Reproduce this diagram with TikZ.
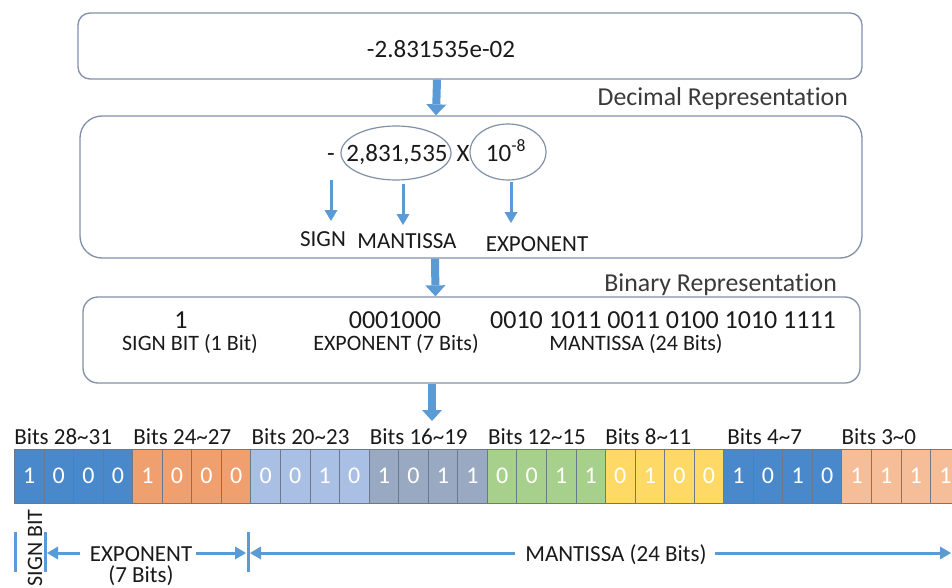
\documentclass[tikz,border=0pt]{standalone}
\usepackage{fontspec}
\setmainfont{Carlito}[Ligatures=NoCommon]
\usetikzlibrary{arrows.meta,shapes.geometric}
\definecolor{txt}{HTML}{1A1A1A}
\definecolor{lbl}{HTML}{3A3A3A}
\definecolor{abl}{HTML}{5B9BD5}
\definecolor{boxb}{HTML}{8090A8}
\definecolor{cellb}{HTML}{6A7A8C}
\definecolor{gA}{HTML}{4A88CC}
\definecolor{gB}{HTML}{F0A06E}
\definecolor{gC}{HTML}{A9C0E4}
\definecolor{gD}{HTML}{9AA9C2}
\definecolor{gE}{HTML}{A8D08D}
\definecolor{gF}{HTML}{FFD966}
\definecolor{gH}{HTML}{F6BE98}
\newcommand{\fs}[1]{\fontsize{#1}{#1}\selectfont}
\tikzset{
  panel/.style={draw=boxb, line width=1.3pt, fill=white, inner sep=0pt},
  blockarrow/.style={abl, line width=8pt, -{Triangle[width=20pt 0 0, length=11pt 0 0, line width=0pt 0 0]}},
  thinarrow/.style={abl, line width=3pt, -{Triangle[width=13pt 0 0, length=11pt 0 0, line width=0pt 0 0]}},
  bar/.style={abl, line width=3pt},
  oval/.style={ellipse, draw=boxb, line width=1.2pt, inner sep=0pt},
  maintext/.style={text=txt, font=\fs{25}, inner sep=0pt},
  lbltext/.style={text=lbl, font=\fs{25.8}, inner sep=0pt},
  smalltext/.style={text=txt, font=\fs{23}, inner sep=0pt},
  cell/.style={draw=cellb, line width=0.9pt, minimum width=29.55pt, minimum height=54pt, inner sep=0pt, text=white, font=\fs{24}},
  bitlab/.style={text=txt, font=\fs{23}, inner sep=0pt, anchor=base west},
}
\begin{document}
\begin{tikzpicture}[x=1pt,y=-1pt]
\useasboundingbox (0,0) rectangle (952,588);
\fill[white] (0,0) rectangle (952,588);

% panels
\node[panel, rounded corners=12pt, minimum width=784pt, minimum height=66pt] (b1) at (470,46) {};
\node[panel, rounded corners=22pt, minimum width=782pt, minimum height=142pt] (b2) at (471,187) {};
\node[panel, rounded corners=15pt, minimum width=777pt, minimum height=86pt] (b3) at (471.5,340) {};

% top value
\node[maintext, anchor=base] (val) at (441,58) {-2.831535e-02};
\node[lbltext, anchor=base east] (dec) at (848,106) {Decimal Representation};
\node[lbltext, anchor=base east] (bin) at (837,291) {Binary Representation};

% block arrows
\draw[blockarrow] ([xshift=-33pt]b1.south) -- ([xshift=-35pt]b2.north);
\draw[blockarrow] ([xshift=-36pt]b2.south) -- ([xshift=-36pt]b3.north);
\coordinate (a3end) at (432,421);
\draw[blockarrow] (b3.south -| a3end) -- (a3end);

% decimal decomposition
\node[oval, minimum width=110pt, minimum height=54pt] (mant) at (396,153) {};
\node[oval, minimum width=76pt, minimum height=56pt] (expo) at (508,152) {};
\node[maintext, anchor=base] (minus) at (331,161) {-};
\node[maintext, anchor=base] (mantt) at (397,161) {2,831,535};
\node[maintext, anchor=base] (times) at (463,162) {X};
\node[maintext, anchor=base] (expot) at (506,161) {10\textsuperscript{-8}};

\node[smalltext, anchor=base] (sign) at (323,246) {SIGN};
\node[smalltext, anchor=base] (mlab) at (407,248) {MANTISSA};
\node[smalltext, anchor=base] (elab) at (537,251) {EXPONENT};
\coordinate (s0) at (331,180);
\coordinate (s1) at (331,221);
\coordinate (m0) at (403,184);
\coordinate (m1) at (403,225);
\coordinate (e0) at (511,182);
\coordinate (e1) at (511,223);
\draw[thinarrow] (s0) -- (s1);
\draw[thinarrow] (m0) -- (m1);
\draw[thinarrow] (e0) -- (e1);

% binary line
\node[text=txt, font=\fs{26}, inner sep=0pt, anchor=base] (sb) at (181,328) {1};
\node[text=txt, font=\fs{22}, inner sep=0pt, anchor=base] (sbl) at (190,350) {SIGN BIT (1 Bit)};
\node[text=txt, font=\fs{26}, inner sep=0pt, anchor=base] (eb) at (395,328) {0001000};
\node[text=txt, font=\fs{22}, inner sep=0pt, anchor=base] (ebl) at (396,350) {EXPONENT (7 Bits)};
\node[text=txt, font=\fs{26}, inner sep=0pt, anchor=base] (mb) at (663,328) {0010 1011 0011 0100 1010 1111};
\node[text=txt, font=\fs{22}, inner sep=0pt, anchor=base] (mbl) at (636,350) {MANTISSA (24 Bits)};

% bit cells
\foreach \i/\b/\c in {0/1/gA,1/0/gA,2/0/gA,3/0/gA,
                      4/1/gB,5/0/gB,6/0/gB,7/0/gB,
                      8/0/gC,9/0/gC,10/1/gC,11/0/gC,
                      12/1/gD,13/0/gD,14/1/gD,15/1/gD,
                      16/0/gE,17/0/gE,18/1/gE,19/1/gE,
                      20/0/gF,21/1/gF,22/0/gF,23/0/gF,
                      24/1/gA,25/0/gA,26/1/gA,27/0/gA,
                      28/1/gH,29/1/gH,30/1/gH,31/1/gH}
  \node[cell, fill=\c] (c\i) at ({14.5+29.55*(\i+0.5)},476) {\b};

% group labels
\node[bitlab] (l0) at ([yshift=4pt]c0.north west) {Bits 28\textasciitilde 31};
\node[bitlab] (l1) at ([xshift=1pt,yshift=4pt]c4.north west) {Bits 24\textasciitilde 27};
\node[bitlab] (l2) at ([xshift=1pt,yshift=4pt]c8.north west) {Bits 20\textasciitilde 23};
\node[bitlab] (l3) at ([xshift=1pt,yshift=4pt]c12.north west) {Bits 16\textasciitilde 19};
\node[bitlab] (l4) at ([xshift=1pt,yshift=4pt]c16.north west) {Bits 12\textasciitilde 15};
\node[bitlab] (l5) at ([xshift=0pt,yshift=4pt]c20.north west) {Bits 8\textasciitilde 11};
\node[bitlab] (l6) at ([xshift=4pt,yshift=4pt]c24.north west) {Bits 4\textasciitilde 7};
\node[bitlab] (l7) at ([xshift=0pt,yshift=4pt]c28.north west) {Bits 3\textasciitilde 0};

% bottom annotations
\node[text=txt, font=\fs{22}, inner sep=0pt, rotate=90] (sgn) at (35,548) {SIGN BIT};
\coordinate (p0a) at (15,532); \coordinate (p0b) at (15,572);
\coordinate (p1a) at (45,532); \coordinate (p1b) at (45,572);
\coordinate (p2a) at (248,532); \coordinate (p2b) at (248,572);
\draw[bar] (p0a) -- (p0b);
\draw[bar] (p1a) -- (p1b);
\draw[bar] (p2a) -- (p2b);
\node[smalltext, anchor=base] (expb) at (141,561) {EXPONENT};
\node[smalltext, anchor=base] (expb2) at (141,582) {(7 Bits)};
\node[smalltext, anchor=base] (mantb) at (616,561) {MANTISSA (24 Bits)};
\coordinate (endR) at (951,553);
\draw[thinarrow] ([xshift=-10pt]expb.west |- 0,553) -- (47,553);
\draw[thinarrow] ([xshift=4pt]expb.east |- 0,553) -- (246,553);
\draw[thinarrow] ([xshift=-10pt]mantb.west |- 0,553) -- (250,553);
\draw[thinarrow] ([xshift=8pt]mantb.east |- 0,553) -- (endR);
\end{tikzpicture}
\end{document}
